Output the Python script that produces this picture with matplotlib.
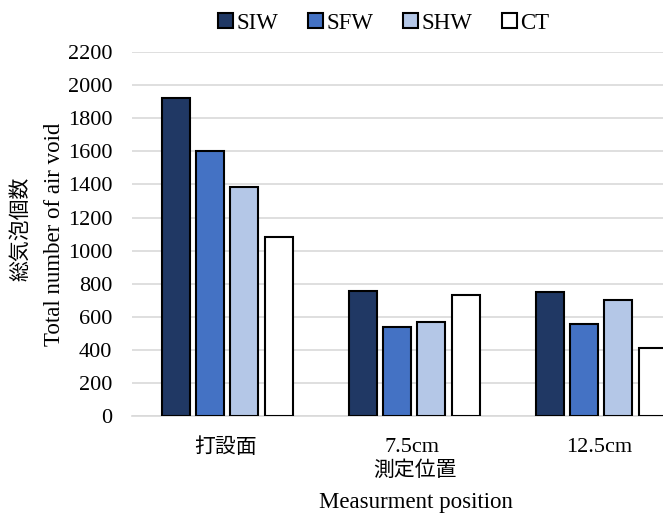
import numpy as np
import matplotlib
matplotlib.use("Agg")
import matplotlib.pyplot as plt

plt.rcParams['font.family'] = ['Liberation Serif', 'Noto Sans CJK JP']

# data
positions = ['打設面', '7.5cm', '12.5cm']
series = ['SIW', 'SFW', 'SHW', 'CT']
siw = [1925, 755, 750]
sfw = [1600, 538, 556]
shw = [1385, 568, 701]
ct = [1080, 730, 410]
colors = ['#203864', '#4472c4', '#b4c7e7', '#ffffff']

fig = plt.figure(figsize=(6.63, 5.15), dpi=100)
ax = fig.add_axes([0.199, 0.192, 0.846, 0.707])

x = np.arange(len(positions))
pitch = 0.183
width = 0.15
for i, (name, vals) in enumerate(zip(series, [siw, sfw, shw, ct])):
    ax.bar(x + (i - 1.5) * pitch + 0.01, vals, width, color=colors[i],
           edgecolor='black', linewidth=1.5, label=name, zorder=3)

ax.set_xlim(-0.5, 2.5)
ax.set_ylim(0, 2200)
ax.set_yticks(range(0, 2201, 200))
ax.yaxis.grid(True, color='#d9d9d9', linewidth=1.2, zorder=0)
for s in ['top', 'right', 'left']:
    ax.spines[s].set_visible(False)
ax.spines['bottom'].set_color('#d9d9d9')
ax.spines['bottom'].set_linewidth(1.2)
ax.tick_params(axis='both', length=0, labelsize=16)
ax.tick_params(axis='y', pad=14)
ax.tick_params(axis='x', pad=16)
ax.set_xticks(x)
ax.set_xticklabels(positions)
for lab in ax.get_xticklabels():
    if lab.get_text() == '打設面':
        lab.set_fontsize(15)

ax.set_ylabel('Total number of air void', fontsize=16.5, labelpad=2)
fig.text(0.032, 0.555, '総気泡個数', rotation=90, fontsize=15, ha='center', va='center')
fig.text(0.626, 0.085, '測定位置', fontsize=15, ha='center', va='center')
fig.text(0.627, 0.024, 'Measurment position', fontsize=16.5, ha='center', va='center')

fig.legend(loc='center', bbox_to_anchor=(0.579, 0.955), ncol=4, frameon=False,
           fontsize=16.5, handlelength=0.65, handleheight=0.65, handletextpad=0.15,
           columnspacing=1.3)

fig.savefig('out.png', dpi=100)
